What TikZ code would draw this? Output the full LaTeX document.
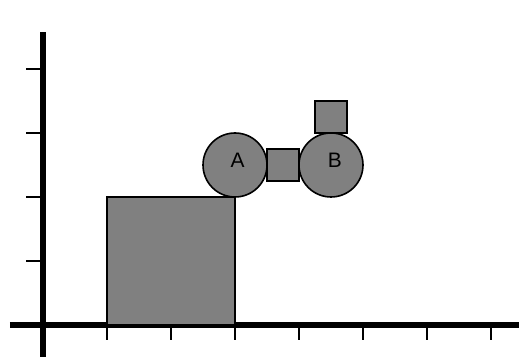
\documentclass[tikz,border=0pt]{standalone}
\usepackage{fontspec}
\setmainfont{Liberation Sans}
\tikzset{
  block/.style={fill=black!50, draw=black, line width=1.6bp},
  axis/.style={line width=6bp},
  tick/.style={line width=1.5bp}
}
\begin{document}
\begin{tikzpicture}[x=64bp, y=64bp, every node/.style={font=\fontsize{21}{24}\selectfont, inner sep=0pt}]
  \useasboundingbox (-0.672,-0.516) rectangle (7.4375,5.078);

  % ticks
  \foreach \i in {1,...,7}
    \draw[tick] (\i,0) -- (\i,-0.234);
  \foreach \j in {1,...,4}
    \draw[tick] (0,\j) -- (-0.266,\j);

  % axes
  \draw[axis] (-0.516,0) -- (7.4375,0);
  \draw[axis] (0,-0.5) -- (0,4.578);

  % blocks
  \draw[block] (1,0) rectangle (3,2);
  \draw[block] (3,2.5) circle (0.5);
  \draw[block] (3.5,2.25) rectangle (4,2.75);
  \draw[block] (4.5,2.5) circle (0.5);
  \draw[block] (4.25,3) rectangle (4.75,3.5);

  \node (labA) at (3.042,2.573) {A};
  \node (labB) at (4.562,2.578) {B};
\end{tikzpicture}
\end{document}
